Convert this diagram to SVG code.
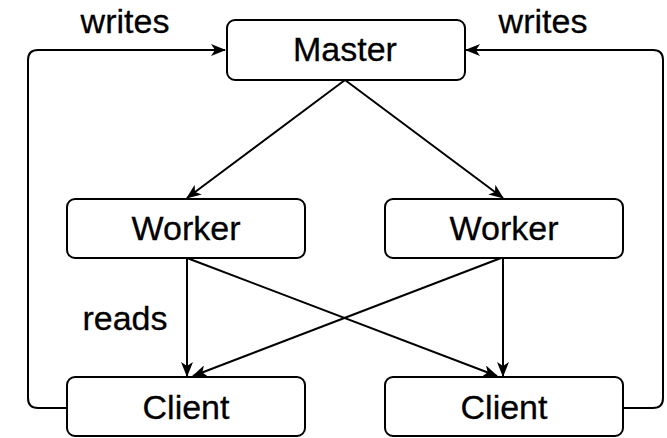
<svg xmlns="http://www.w3.org/2000/svg" width="667" height="438" viewBox="0 0 667 438">
  <style>
    .box { fill: #ffffff; stroke: #000000; stroke-width: 2; }
    .lbl { font-family: "Liberation Sans", Arial, sans-serif; font-size: 34px; fill: #000000; stroke: #000000; stroke-width: 0.3; text-anchor: middle; }
    .edge { fill: none; stroke: #000000; stroke-width: 2; }
  </style>
  <defs>
    <marker id="arrow" viewBox="0 0 15 12" refX="14" refY="6" markerWidth="15" markerHeight="12" markerUnits="userSpaceOnUse" orient="auto">
      <path d="M0,0 L15,6 L0,12 L4,6 Z" fill="#000000"/>
    </marker>
  </defs>
  <rect width="667" height="438" fill="#ffffff"/>

  <g id="connectors">
    <!-- Master fans out to both workers -->
    <path class="edge" d="M345,80 L187,198" marker-end="url(#arrow)"/>
    <path class="edge" d="M345,80 L503,198" marker-end="url(#arrow)"/>
    <!-- workers feed the clients -->
    <path class="edge" d="M187,258 L187,376" marker-end="url(#arrow)"/>
    <path class="edge" d="M187,258 L497,376" marker-end="url(#arrow)"/>
    <path class="edge" d="M503,258 L503,376" marker-end="url(#arrow)"/>
    <path class="edge" d="M501,258 L193,376" marker-end="url(#arrow)"/>
    <!-- clients write back to the master -->
    <path class="edge" d="M67,408 L38,408 Q28,408 28,398 L28,60 Q28,50 38,50 L225,50" marker-end="url(#arrow)"/>
    <path class="edge" d="M623,408 L653,408 Q663,408 663,398 L663,60 Q663,50 653,50 L466,50" marker-end="url(#arrow)"/>
    <text class="lbl" x="125" y="33">writes</text>
    <text class="lbl" x="543" y="33">writes</text>
    <text class="lbl" x="125" y="330">reads</text>
  </g>

  <g id="master">
    <rect class="box" x="227" y="20" width="238" height="60" rx="8"/>
    <text class="lbl" x="345" y="61">Master</text>
  </g>
  <g id="worker-left">
    <rect class="box" x="67" y="199" width="238" height="59" rx="8"/>
    <text class="lbl" x="186" y="240">Worker</text>
  </g>
  <g id="worker-right">
    <rect class="box" x="385" y="199" width="238" height="59" rx="8"/>
    <text class="lbl" x="504" y="240">Worker</text>
  </g>
  <g id="client-left">
    <rect class="box" x="67" y="377" width="238" height="59" rx="8"/>
    <text class="lbl" x="186" y="419">Client</text>
  </g>
  <g id="client-right">
    <rect class="box" x="385" y="377" width="238" height="59" rx="8"/>
    <text class="lbl" x="504" y="419">Client</text>
  </g>
</svg>
